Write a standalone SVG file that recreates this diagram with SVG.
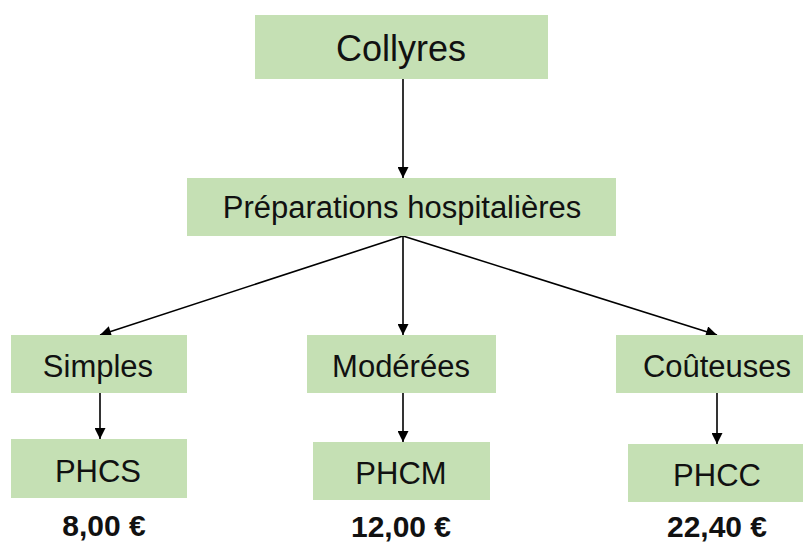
<svg xmlns="http://www.w3.org/2000/svg" width="803" height="545" viewBox="0 0 803 545">
<style>
.box{fill:#C5E0B4;}
.t{font-family:"Liberation Sans",Arial,sans-serif;fill:#111;text-anchor:middle;}
.lbl{font-size:31px;}
.big{font-size:36px;}
.price{font-size:30px;font-weight:bold;}
.c{stroke:#000;stroke-width:1.6;fill:none;marker-end:url(#ah);}
</style>
<defs>
<marker id="ah" viewBox="0 0 10 10" refX="10" refY="5" markerWidth="12" markerHeight="11" markerUnits="userSpaceOnUse" orient="auto">
<path d="M0,0 L10,5 L0,10 z" fill="#000"/>
</marker>
</defs>
<rect width="803" height="545" fill="#fff"/>
<g id="connectors">
<line class="c" x1="403" y1="79" x2="403" y2="178"/>
<line class="c" x1="403" y1="236" x2="100" y2="335"/>
<line class="c" x1="403" y1="236" x2="403" y2="335"/>
<line class="c" x1="403" y1="236" x2="717" y2="335"/>
<line class="c" x1="100" y1="393" x2="100" y2="439"/>
<line class="c" x1="403" y1="393" x2="403" y2="442"/>
<line class="c" x1="717" y1="393" x2="717" y2="444"/>
</g>
<g id="collyres">
<rect class="box" x="255" y="15" width="293" height="64"/>
<text class="t big" x="401" y="61">Collyres</text>
</g>
<g id="preparations">
<rect class="box" x="187" y="178" width="429" height="58"/>
<text class="t lbl" x="402" y="218">Préparations hospitalières</text>
</g>
<g id="simples">
<rect class="box" x="11" y="335" width="176" height="58"/>
<text class="t lbl" x="98" y="377">Simples</text>
</g>
<g id="moderees">
<rect class="box" x="307" y="335" width="189" height="58"/>
<text class="t lbl" x="401" y="377">Modérées</text>
</g>
<g id="couteuses">
<rect class="box" x="616" y="335" width="200" height="58"/>
<text class="t lbl" x="717" y="377">Coûteuses</text>
</g>
<g id="phcs">
<rect class="box" x="11" y="439" width="176" height="59"/>
<text class="t lbl" x="98" y="482">PHCS</text>
</g>
<g id="phcm">
<rect class="box" x="313" y="442" width="177" height="58"/>
<text class="t lbl" x="401" y="484">PHCM</text>
</g>
<g id="phcc">
<rect class="box" x="628" y="444" width="190" height="58"/>
<text class="t lbl" x="717" y="486">PHCC</text>
</g>
<g id="prices">
<text class="t price" x="104" y="536">8,00 €</text>
<text class="t price" x="401" y="537">12,00 €</text>
<text class="t price" x="717" y="537">22,40 €</text>
</g>
</svg>
